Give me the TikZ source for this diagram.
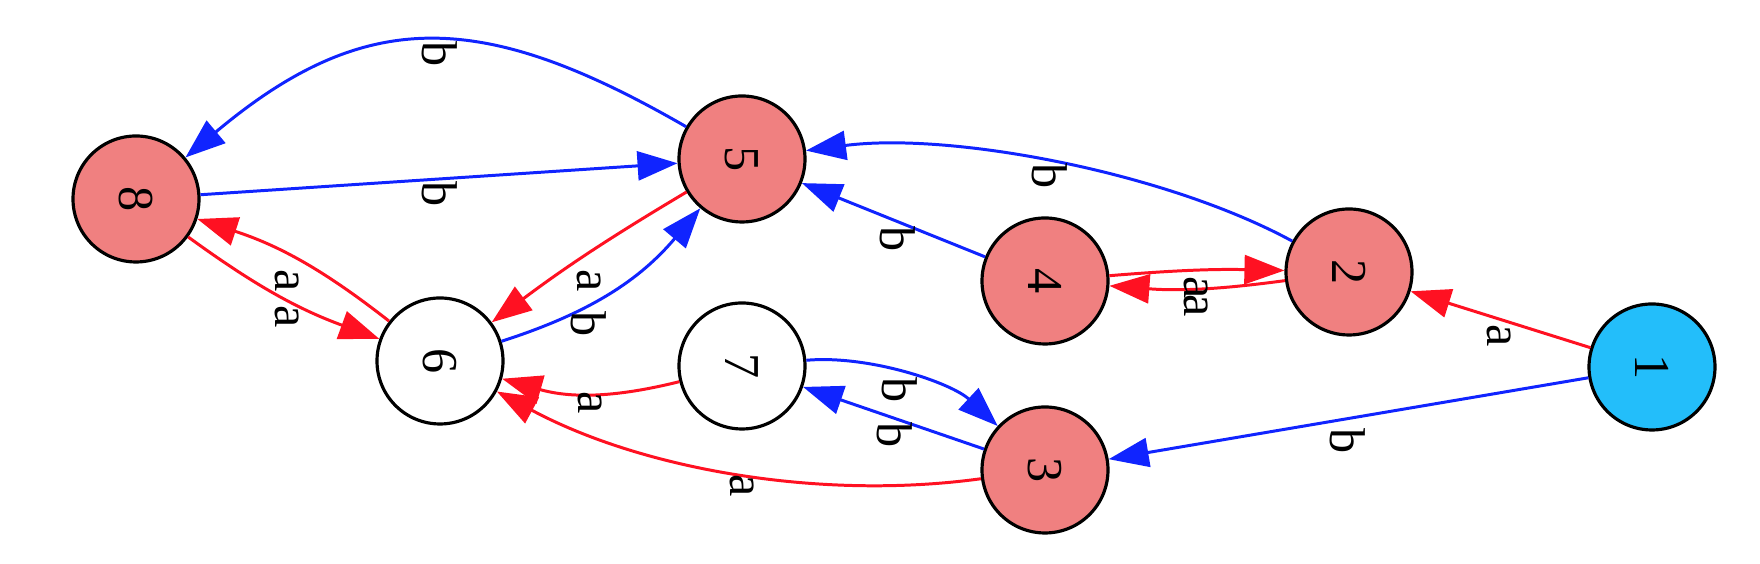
\documentclass[tikz,border=0pt]{standalone}
\usepackage{fontspec}
\setmainfont{Liberation Serif}
\usepackage{graphicx}
\definecolor{salmon}{RGB}{240,128,128}
\definecolor{startblue}{RGB}{35,190,250}
\definecolor{edgered}{RGB}{255,17,34}
\definecolor{edgeblue}{RGB}{16,36,255}
\usetikzlibrary{arrows.meta}
\tikzset{
	st/.style     = {circle,draw=black,line width=0.9pt,
		minimum size=1.26cm,inner sep=0pt,
		font=\fontsize{14.3}{17}\selectfont},
	acc/.style    = {st,fill=salmon},
	init/.style   = {st,fill=startblue},
	nacc/.style   = {st,fill=white},
	lbl/.style    = {rotate=-90,inner sep=0pt,
		font=\fontsize{14.3}{17}\selectfont},
	ea/.style     = {-{Triangle[length=4mm,width=2.9mm]},line width=0.85pt,edgered},
	eb/.style     = {-{Triangle[length=4mm,width=2.9mm]},line width=0.85pt,edgeblue},
}
\begin{document}
\begin{tikzpicture}
	\useasboundingbox (0,0) rectangle (17.6,5.64);
	%% Etats
	\node (n1) [init] at (16.52,1.97) {\rotatebox{-90}{1}};
	\node (n2) [acc]  at (13.49,2.92) {\rotatebox{-90}{2}};
	\node (n3) [acc]  at (10.45,0.94) {\rotatebox{-90}{3}};
	\node (n4) [acc]  at (10.45,2.83) {\rotatebox{-90}{4}};
	\node (n5) [acc]  at (7.42,4.05)  {\rotatebox{-90}{5}};
	\node (n6) [nacc] at (4.40,2.03)  {\rotatebox{-90}{6}};
	\node (n7) [nacc] at (7.42,1.98)  {\rotatebox{-90}{7}};
	\node (n8) [acc]  at (1.36,3.65)  {\rotatebox{-90}{8}};
	
	%% Transitions a
	\draw[ea] (n1) -- (n2);
	\draw[ea] (n4) to[bend left=3] (n2);
	\draw[ea] (n2) to[bend left=6] (n4);
	\draw[ea] (n3) to[bend left=18,looseness=0.85] (n6);
	\draw[ea] (n7) to[bend left=15] (n6);
	\draw[ea] (n5) to[bend right=3] (n6);
	\draw[ea] (n8) to[bend right=8] (n6);
	\draw[ea] (n6) to[bend right=10] (n8);
	
	%% Transitions b
	\draw[eb] (n1) -- (n3);
	\draw[eb] (n2) to[bend right=18,looseness=0.75] (n5);
	\draw[eb] (n4) -- (n5);
	\draw[eb] (n3) -- (n7);
	\draw[eb] (n7) to[bend left=24,looseness=0.8] (n3);
	\draw[eb] (n6) to[bend right=16] (n5);
	\draw[eb] (n8) -- (n5);
	\draw[eb] (n5) to[out=150,in=40,looseness=1.2] (n8);
	
	%% Etiquettes
	\foreach \x/\y/\t [count=\i] in {
		14.99/2.28/a, 11.96/2.76/a, 11.96/2.58/a, 7.42/0.78/a,
		5.90/1.61/a, 5.89/2.83/a, 2.87/2.83/a, 2.87/2.47/a,
		13.48/1.23/b, 10.50/3.88/b, 8.98/3.25/b, 8.95/1.29/b,
		9.00/1.74/b, 5.89/2.40/b, 4.40/3.70/b, 4.40/5.10/b}
	\node[lbl] (l\i) at (\x,\y) {\t};
\end{tikzpicture}
\end{document}
